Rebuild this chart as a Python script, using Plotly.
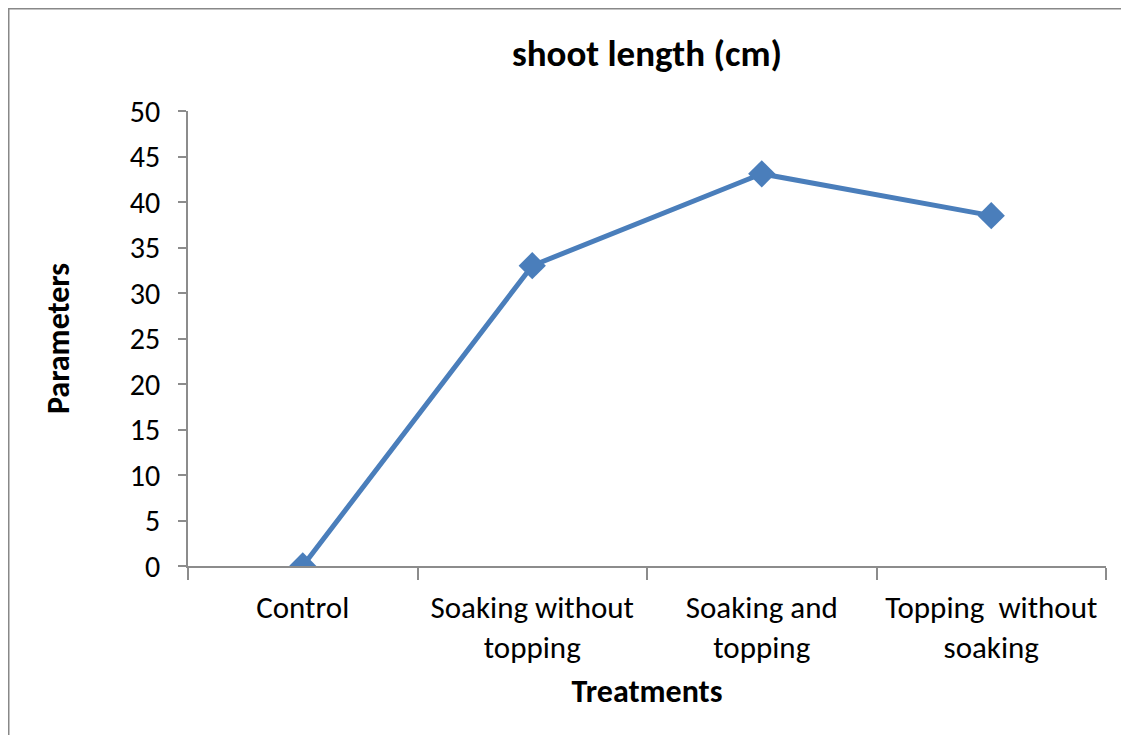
import plotly.graph_objects as go

treatments = ["Control", "Soaking without<br>topping", "Soaking and<br>topping", "Topping  without<br>soaking"]
shoot_length = [0, 33, 43.1, 38.5]
y_ticks = [0, 5, 10, 15, 20, 25, 30, 35, 40, 45, 50]

FONT = "Carlito, Liberation Sans Narrow, Liberation Sans, sans-serif"
AXIS_GRAY = "#8c8c8c"

# page has an 8px body margin, so the figure is 16px smaller than the window
W, H = 1113, 727
L, R, T, B = 180, 15, 103, 169
PW, PH = W - L - R, H - T - B

fig = go.Figure()
fig.add_trace(go.Scatter(
    x=treatments,
    y=shoot_length,
    mode="lines+markers",
    line=dict(color="#4a7ebb", width=5),
    marker=dict(symbol="diamond", size=21, color="#4a7ebb"),
    showlegend=False,
))

fig.update_layout(
    width=W,
    height=H,
    paper_bgcolor="white",
    plot_bgcolor="white",
    margin=dict(l=L, r=R, t=T, b=B),
    font=dict(family=FONT, size=28, color="black"),
    title=dict(
        text="<b>shoot length (cm)</b>",
        x=0.5, xanchor="center", xref="paper",
        y=1 - 45 / H, yanchor="middle",
        font=dict(size=37),
    ),
    xaxis=dict(
        range=[-0.5, 3.5], automargin=False,
        showline=True, linecolor=AXIS_GRAY, linewidth=1.5,
        showgrid=False, zeroline=False,
        tickson="boundaries", ticks="outside", ticklen=12,
        tickcolor=AXIS_GRAY, tickwidth=1.5,
        ticklabelstandoff=13,
        tickfont=dict(size=31),
        title=dict(text="<b>Treatments</b>", font=dict(size=32), standoff=14),
    ),
    yaxis=dict(
        range=[0, 50], tickvals=y_ticks, automargin=False,
        showline=True, linecolor=AXIS_GRAY, linewidth=1.5,
        showgrid=False, zeroline=False,
        ticks="outside", ticklen=8, tickcolor=AXIS_GRAY, tickwidth=1.5,
        ticklabelstandoff=12,
        tickfont=dict(size=30),
        title=dict(text="<b>Parameters</b>", font=dict(size=32), standoff=51),
    ),
    shapes=[
        # grey frame on the left and top, as in the source image
        dict(type="line", xref="paper", yref="paper",
             x0=(0 - L) / PW, x1=(0 - L) / PW,
             y0=1 + T / PH, y1=-B / PH,
             line=dict(color="#888888", width=3)),
        dict(type="line", xref="paper", yref="paper",
             x0=(0 - L) / PW, x1=(PW + R) / PW,
             y0=1 + T / PH, y1=1 + T / PH,
             line=dict(color="#888888", width=3)),
    ],
)

fig.write_html("out.html")
